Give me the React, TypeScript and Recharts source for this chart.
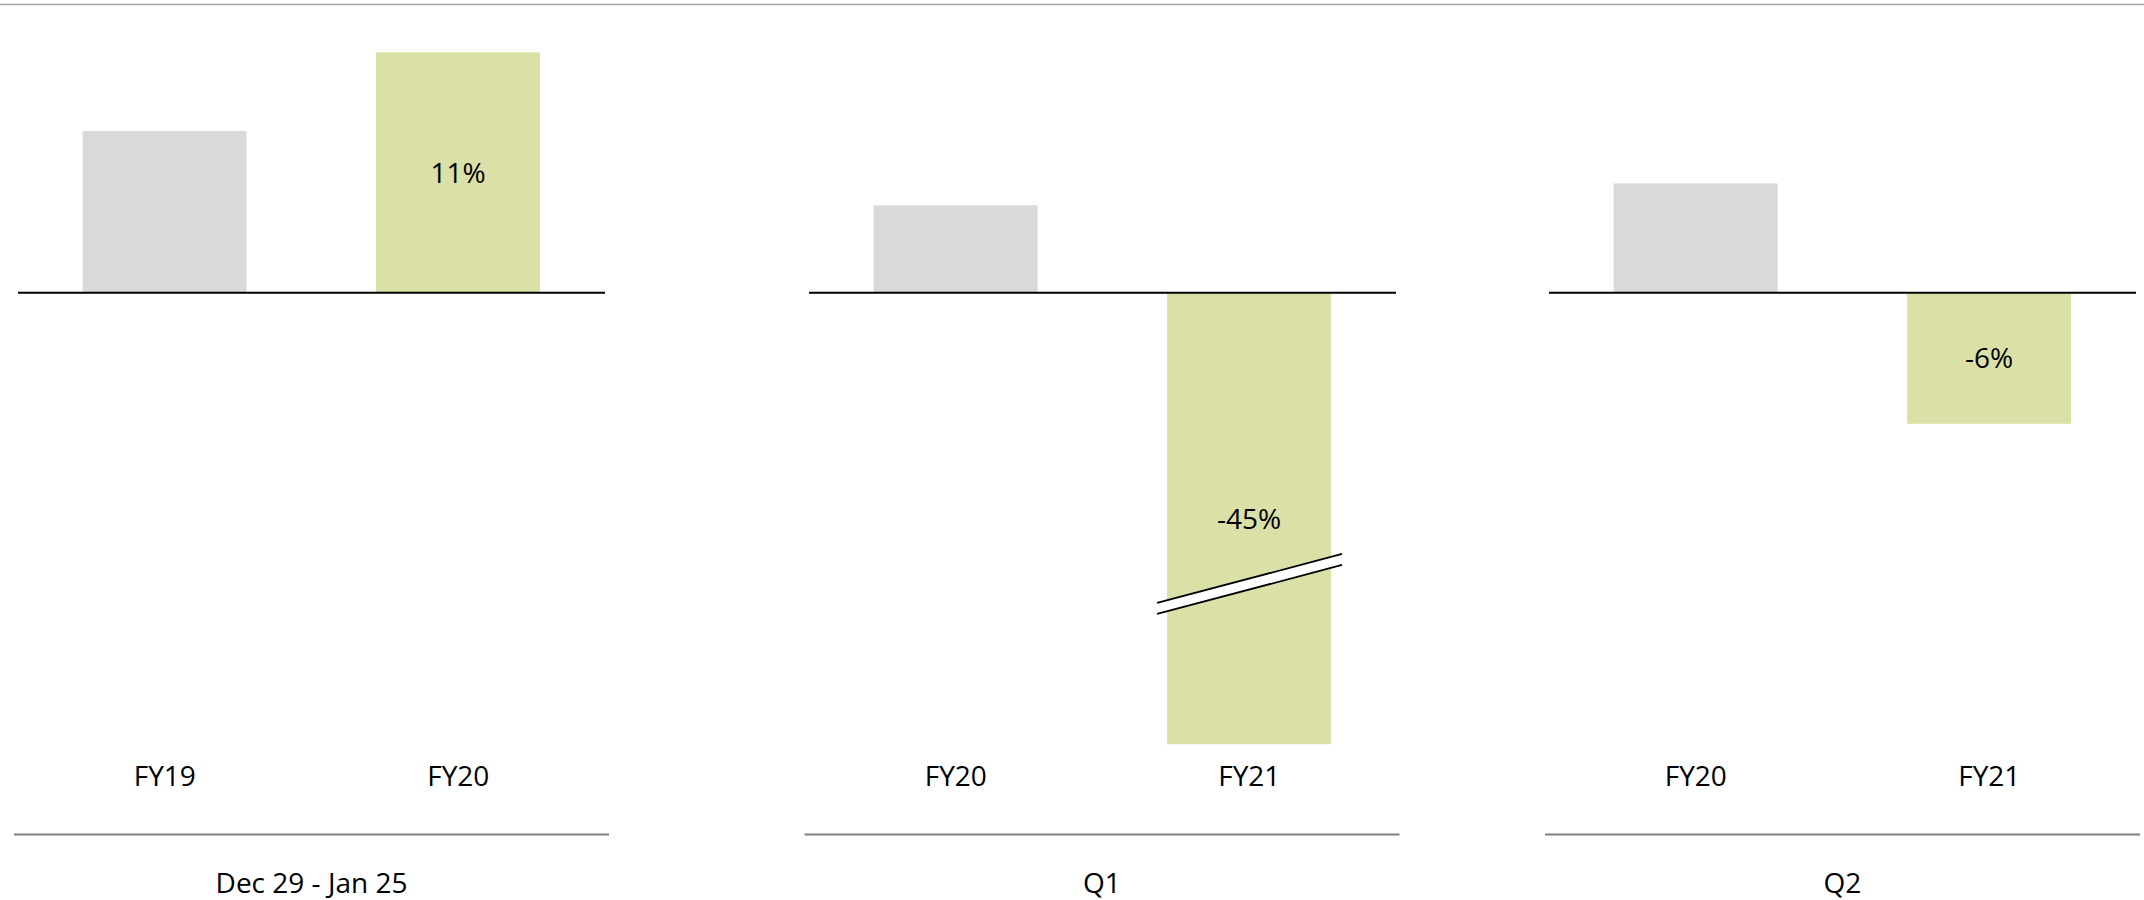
import React from 'react';
import { BarChart, Bar, XAxis, YAxis, ReferenceLine, Cell } from 'recharts';

// Growth rates (%) per period: prior year vs current year
const periodNames = ['Dec 29 - Jan 25', 'Q1', 'Q2'];
const priorYears = ['FY19', 'FY20', 'FY20'];
const currentYears = ['FY20', 'FY21', 'FY21'];
const priorGrowth = [7.4, 4.0, 5.0];
const currentGrowth = [11, -45, -6];

// Shared value axis; values below the floor are cut and shown with a break mark
const GROWTH_DOMAIN: [number, number] = [-20.68, 12];

const FONT = '"Open Sans", "Noto Sans", sans-serif';
const FONT_SIZE = 28;
const GREY = '#D9D9D9';
const OLIVE = '#DAE0A6';

const PANEL_LEFT = [18, 808.5, 1549];
const PANEL_WIDTH = 587;
const PLOT_TOP = 30.5;
const PLOT_BOTTOM = 744.5;
const AXIS_HEIGHT = 50;
const CHART_HEIGHT = 800;

type Row = { year: string; growth: number; current: boolean };

const buildRows = (i: number): Row[] => [
  { year: priorYears[i], growth: priorGrowth[i], current: false },
  { year: currentYears[i], growth: currentGrowth[i], current: true },
];

function GrowthBar(props: any) {
  const { x, y, width, height, fill, payload, background } = props;
  const plotTop = background ? background.y : PLOT_TOP;
  const plotBottom = background ? background.y + background.height : PLOT_BOTTOM;
  let top = Math.min(y, y + height);
  let bottom = Math.max(y, y + height);
  let broken = false;
  if (bottom > plotBottom + 0.5) {
    bottom = plotBottom;
    broken = true;
  }
  if (top < plotTop - 0.5) {
    top = plotTop;
    broken = true;
  }
  const cx = x + width / 2;
  const cy = (top + bottom) / 2;

  let breakMark = null;
  if (broken) {
    const by = top + 0.645 * (bottom - top);
    const slope = -0.265;
    const x0 = x - 10;
    const x1 = x + width + 11;
    const at = (xx: number, off: number) => by + off + slope * (xx - cx);
    breakMark = (
      <g>
        <polygon
          points={`${x0},${at(x0, -5.5)} ${x1},${at(x1, -5.5)} ${x1},${at(x1, 5.5)} ${x0},${at(x0, 5.5)}`}
          fill="#fff"
        />
        <line x1={x0} y1={at(x0, -5.5)} x2={x1} y2={at(x1, -5.5)} stroke="#000" strokeWidth={1.8} />
        <line x1={x0} y1={at(x0, 5.5)} x2={x1} y2={at(x1, 5.5)} stroke="#000" strokeWidth={1.8} />
      </g>
    );
  }

  return (
    <g>
      <rect x={x} y={top} width={width} height={bottom - top} fill={fill} />
      {payload && payload.current ? (
        <text
          x={cx}
          y={cy + FONT_SIZE * 0.357}
          textAnchor="middle"
          fontFamily={FONT}
          fontSize={FONT_SIZE}
          fill="#000"
        >
          {`${payload.growth}%`}
        </text>
      ) : null}
      {breakMark}
    </g>
  );
}

function YearTick({ x, y, payload }: any) {
  return (
    <text x={x} y={y} dy={41} textAnchor="middle" fontFamily={FONT} fontSize={FONT_SIZE} fill="#000">
      {payload.value}
    </text>
  );
}

function Panel({ index }: { index: number }) {
  const rows = buildRows(index);
  return (
    <div style={{ position: 'absolute', left: PANEL_LEFT[index], top: 0 }}>
      <BarChart
        width={PANEL_WIDTH}
        height={CHART_HEIGHT}
        data={rows}
        margin={{ top: PLOT_TOP, right: 0, left: 0, bottom: CHART_HEIGHT - PLOT_BOTTOM - AXIS_HEIGHT }}
        barCategoryGap="22%"
      >
        <XAxis
          dataKey="year"
          axisLine={false}
          tickLine={false}
          tickSize={0}
          tickMargin={0}
          height={AXIS_HEIGHT}
          interval={0}
          tick={<YearTick />}
        />
        <YAxis hide domain={GROWTH_DOMAIN} allowDataOverflow type="number" />
        <Bar dataKey="growth" isAnimationActive={false} shape={<GrowthBar />}>
          {rows.map((r, i) => (
            <Cell key={i} fill={r.current ? OLIVE : GREY} />
          ))}
        </Bar>
        <ReferenceLine y={0} stroke="#000" strokeWidth={2} />
      </BarChart>
    </div>
  );
}

export default function App() {
  return (
    <div style={{ position: 'absolute', left: 0, top: 0, width: 2144, height: 900, background: '#fff', overflow: 'hidden' }}>
      <svg width={2144} height={900} style={{ position: 'absolute', left: 0, top: 0 }}>
        <line x1={0} x2={2144} y1={4.5} y2={4.5} stroke="#a6a6a6" strokeWidth={1.5} />
        {periodNames.map((name, i) => (
          <g key={name}>
            <line
              x1={PANEL_LEFT[i] - 4}
              x2={PANEL_LEFT[i] + PANEL_WIDTH + 4}
              y1={834.5}
              y2={834.5}
              stroke="#808080"
              strokeWidth={2}
            />
            <text
              x={PANEL_LEFT[i] + PANEL_WIDTH / 2}
              y={893}
              textAnchor="middle"
              fontFamily={FONT}
              fontSize={FONT_SIZE}
              fill="#000"
            >
              {name}
            </text>
          </g>
        ))}
      </svg>
      {periodNames.map((_, i) => (
        <Panel key={i} index={i} />
      ))}
    </div>
  );
}
